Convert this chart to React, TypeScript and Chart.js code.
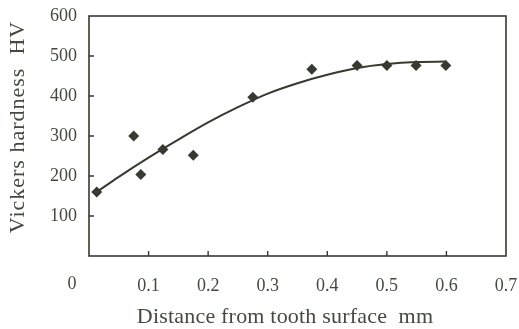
import React, { useEffect, useRef } from "react";
import { Chart, registerables } from "chart.js";

Chart.register(...registerables);

// Measured points (distance mm, hardness HV)
const pointX = [0.013, 0.075, 0.087, 0.124, 0.175, 0.275, 0.374, 0.45, 0.5, 0.549, 0.599];
const pointY = [160, 300, 204, 266, 252, 397, 467, 476, 476, 476, 476];

// Trend curve
const curveX = [0.013, 0.05, 0.1, 0.15, 0.2, 0.25, 0.3, 0.35, 0.4, 0.45, 0.5, 0.55, 0.6];
const curveY = [160, 198, 246, 291, 334, 372, 406, 432, 453, 470, 480, 485, 486];

const xTicks = [0.1, 0.2, 0.3, 0.4, 0.5, 0.6, 0.7];
const xTickLabels = ["0.1", "0.2", "0.3", "0.4", "0.5", "0.6", "0.7"];
const yTicks = [100, 200, 300, 400, 500, 600];
const yTickLabels = ["100", "200", "300", "400", "500", "600"];
const originLabel = "0";
const xTitle = "Distance from tooth surface  mm";
const yTitle = "Vickers hardness  HV";

const INK = "#363a31";
const TEXT = "#434b40";
const FONT = "'Liberation Serif', 'Times New Roman', serif";

const framePlugin = {
  id: "frame",
  afterDraw(chart: any) {
    const { ctx, chartArea: a, scales } = chart;
    const xs = scales.x;
    const ys = scales.y;
    ctx.save();
    ctx.strokeStyle = INK;
    ctx.lineWidth = 1.6;
    ctx.strokeRect(a.left, a.top, a.right - a.left, a.bottom - a.top);
    ctx.lineWidth = 1.4;
    ctx.beginPath();
    xTicks.forEach((v) => {
      const px = xs.getPixelForValue(v);
      if (px < a.right - 1) {
        ctx.moveTo(px, a.bottom);
        ctx.lineTo(px, a.bottom - 5);
      }
    });
    yTicks.forEach((v) => {
      const py = ys.getPixelForValue(v);
      if (py > a.top + 1) {
        ctx.moveTo(a.left, py);
        ctx.lineTo(a.left + 5, py);
      }
    });
    ctx.stroke();

    ctx.fillStyle = TEXT;
    ctx.textAlign = "center";
    ctx.textBaseline = "middle";
    ctx.font = `18px ${FONT}`;
    ctx.fillText(originLabel, 72, 284);

    ctx.font = `22px ${FONT}`;
    (ctx as any).letterSpacing = "0.2px";
    ctx.fillText(xTitle, 285, 317);

    (ctx as any).letterSpacing = "1px";
    ctx.translate(18, 127);
    ctx.rotate(-Math.PI / 2);
    ctx.fillText(yTitle, 0, 0);
    ctx.restore();
  },
};

export default function App() {
  const ref = useRef<HTMLCanvasElement | null>(null);

  useEffect(() => {
    document.body.style.margin = "0";
    if (!ref.current) return;
    const chart = new Chart(ref.current, {
      type: "scatter",
      data: {
        datasets: [
          {
            label: "measured",
            data: pointX.map((x, i) => ({ x, y: pointY[i] })),
            pointStyle: "rectRot",
            pointRadius: 5.5,
            backgroundColor: INK,
            borderColor: INK,
            borderWidth: 0,
            showLine: false,
          },
          {
            label: "fit",
            data: curveX.map((x, i) => ({ x, y: curveY[i] })),
            showLine: true,
            pointRadius: 0,
            borderColor: INK,
            borderWidth: 2,
            cubicInterpolationMode: "monotone",
            fill: false,
          },
        ],
      },
      options: {
        animation: false,
        responsive: true,
        maintainAspectRatio: false,
        layout: { padding: { left: 0, top: 16, right: 13, bottom: 0 } },
        plugins: {
          legend: { display: false },
          tooltip: { enabled: false },
        },
        scales: {
          x: {
            type: "linear",
            min: 0,
            max: 0.7,
            afterBuildTicks: (scale: any) => {
              scale.ticks = xTicks.map((v) => ({ value: v }));
            },
            afterFit: (scale: any) => {
              scale.height = 73;
              scale.paddingLeft = 0;
              scale.paddingRight = 0;
            },
            ticks: {
              padding: 19,
              color: TEXT,
              font: { family: FONT, size: 18 },
              maxRotation: 0,
              autoSkip: false,
              callback: (v: any) => {
                const i = xTicks.findIndex((t) => Math.abs(t - Number(v)) < 1e-9);
                return i >= 0 ? xTickLabels[i] : "";
              },
            },
            grid: { display: false, drawTicks: false },
            border: { display: false },
          },
          y: {
            type: "linear",
            min: 0,
            max: 600,
            afterBuildTicks: (scale: any) => {
              scale.ticks = yTicks.map((v) => ({ value: v }));
            },
            afterFit: (scale: any) => {
              scale.width = 89;
              scale.paddingTop = 0;
              scale.paddingBottom = 0;
            },
            ticks: {
              padding: 12,
              color: TEXT,
              font: { family: FONT, size: 18 },
              autoSkip: false,
              callback: (v: any) => {
                const i = yTicks.findIndex((t) => t === Number(v));
                return i >= 0 ? yTickLabels[i] : "";
              },
            },
            grid: { display: false, drawTicks: false },
            border: { display: false },
          },
        },
      },
      plugins: [framePlugin],
    });
    return () => chart.destroy();
  }, []);

  return (
    <div style={{ width: 519, height: 329, position: "relative", background: "#fff" }}>
      <canvas ref={ref} />
    </div>
  );
}
